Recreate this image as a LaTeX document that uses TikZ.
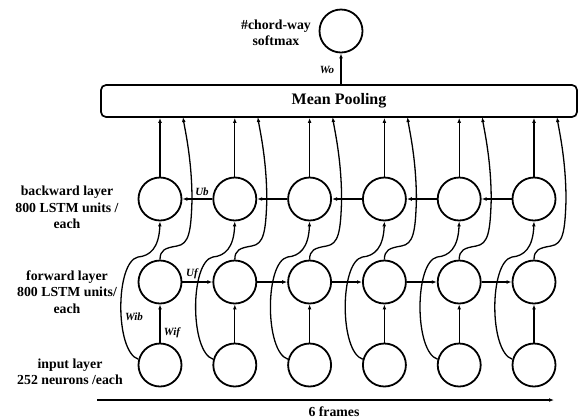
\documentclass[tikz,border=0pt]{standalone}
\usepackage{fontspec}
\setmainfont{Liberation Serif}
\usetikzlibrary{arrows.meta}
\begin{document}
\begin{tikzpicture}[x=1bp,y=-1bp,
  unit/.style={circle,draw,line width=1.8bp,minimum size=43bp,inner sep=0pt},
  conn/.style={line width=1.3bp,-{Latex[length=5bp,width=3.8bp]}},
  lbl/.style={font=\fontsize{13.8bp}{16.5bp}\selectfont\bfseries,align=center,inner sep=0pt},
  wl/.style={font=\fontsize{11bp}{13bp}\selectfont\bfseries\itshape,inner sep=1bp}]
\useasboundingbox (0,0) rectangle (579,419);

% pooling box and softmax
\node[draw,line width=1.7bp,rounded corners=5bp,minimum width=476bp,minimum height=32bp,
      font=\fontsize{16bp}{19bp}\selectfont\bfseries] (pool) at (339,101) {Mean Pooling};
\node[unit] (sm) at (341,31) {};
\draw[conn] (sm |- pool.north) -- (sm.south);
\node[wl] (wo) at (327,70) {Wo};
\node[lbl] (smlbl) at (276,33) {\#chord-way\\softmax};

% units
\foreach \i in {1,...,6} {
  \pgfmathsetmacro\cx{160+74.8*(\i-1)}
  \node[unit] (in\i) at (\cx,365) {};
  \node[unit] (f\i) at (\cx,282) {};
  \node[unit] (b\i) at (\cx,199) {};
}

\foreach \i in {1,...,6} {
  \pgfmathsetmacro\cx{160+74.8*(\i-1)}
  \coordinate (pt\i) at (\cx+23,117);
  \draw[conn] (in\i.north) -- (f\i.south);
  \draw[conn] (b\i.north) -- (b\i.north |- pool.south);
  \draw[conn] (f\i.north) .. controls (\cx,250) and (\cx+5,248) .. (\cx+17,246)
     .. controls (\cx+29,244) and (\cx+31,232) .. (\cx+32,200)
     .. controls (\cx+32,160) and (\cx+25,130) .. (pt\i);
  \draw[conn] (in\i.165) .. controls (\cx-45,352) and (\cx-45,262) .. (\cx-22,257)
     .. controls (\cx-10,256) and (\cx-1,248) .. (b\i.south);
}

\foreach \i [evaluate=\i as \j using int(\i+1)] in {1,...,5} {
  \draw[conn] (f\i.east) -- (f\j.west);
  \draw[conn] (b\j.west) -- (b\i.east);
}

% weight labels
\node[wl] (uf) at (192,274) {Uf};
\node[wl] (ub) at (202,192) {Ub};
\node[wl] (wif) at (172,333) {Wif};
\node[wl] (wib) at (134,317) {Wib};

% left labels
\node[lbl] (blbl) at (67,207.5) {backward layer\\800 LSTM units /\\each};
\node[lbl] (flbl) at (67,292) {forward layer\\800 LSTM units/\\each};
\node[lbl] (ilbl) at (70,372) {input layer\\252 neurons /each};

% time axis
\coordinate (axs) at (97,400);
\coordinate (axe) at (554,400);
\draw[line width=1.6bp,-{Latex[length=5bp,width=3.8bp]}] (axs) -- (axe);
\node[lbl] (frames) at (334,412) {6 frames};
\end{tikzpicture}
\end{document}
